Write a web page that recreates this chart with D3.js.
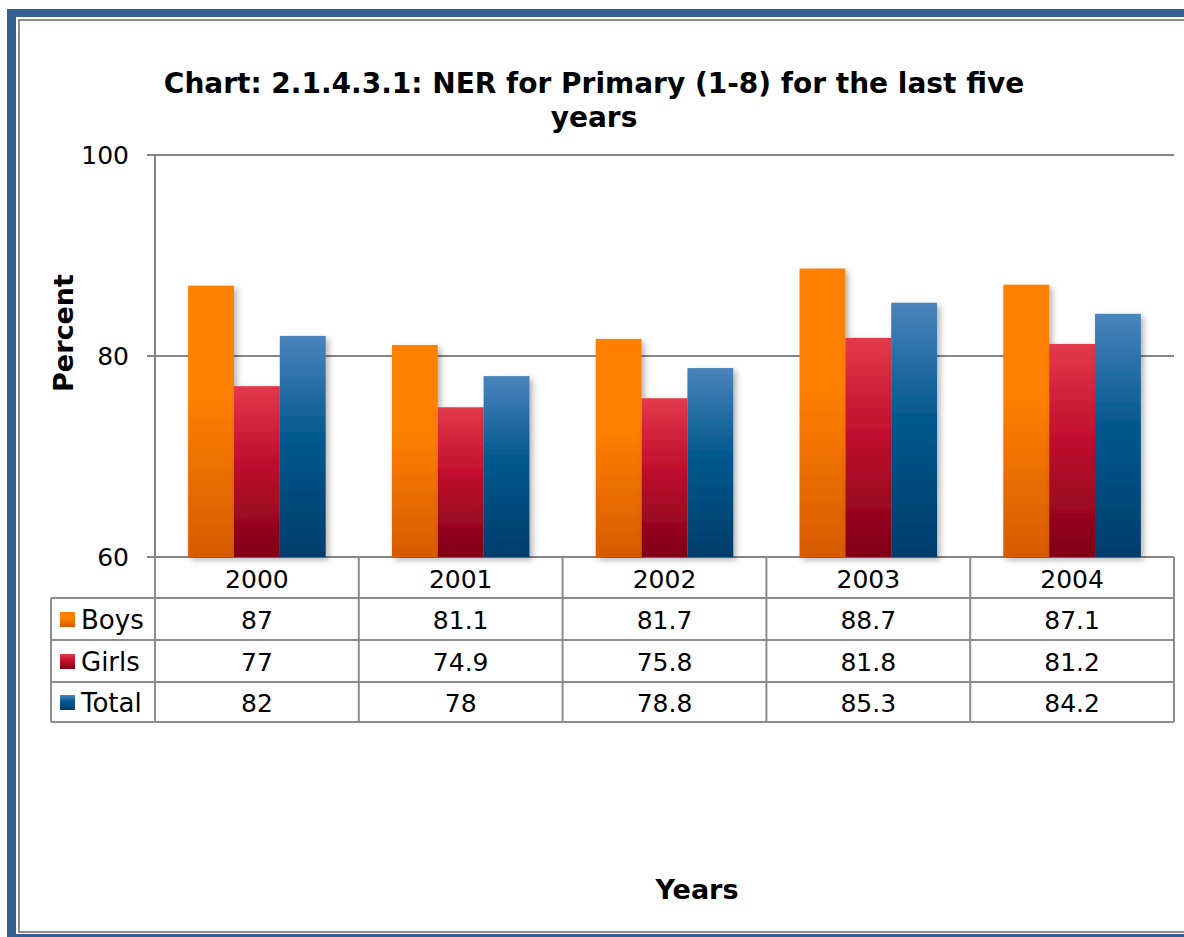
<!DOCTYPE html>
<html>
<head>
<meta charset="utf-8">
<script src="https://cdn.jsdelivr.net/npm/d3@7"></script>
<style>
  html, body { margin: 0; padding: 0; background: #fff; }
  svg { display: block; font-family: "DejaVu Sans", Verdana, sans-serif; }
</style>
</head>
<body>
<svg id="chart" width="1184" height="937"></svg>
<script>
const years = ["2000", "2001", "2002", "2003", "2004"];
const seriesNames = ["Boys", "Girls", "Total"];
const boys = [87, 81.1, 81.7, 88.7, 87.1];
const girls = [77, 74.9, 75.8, 81.8, 81.2];
const total = [82, 78, 78.8, 85.3, 84.2];
const yTicks = [60, 80, 100];
const titleLines = ["Chart: 2.1.4.3.1: NER for Primary (1-8) for the last five", "years"];

const seriesValues = { Boys: boys, Girls: girls, Total: total };
const gradStops = {
  Boys: [["0%", "#FF8000"], ["40%", "#FF8000"], ["100%", "#D85A00"]],
  Girls: [["0%", "#E33A4C"], ["40%", "#C51230"], ["100%", "#800016"]],
  Total: [["0%", "#4A84BC"], ["45%", "#04598F"], ["100%", "#003D6B"]]
};

const svg = d3.select("#chart");
const defs = svg.append("defs");
seriesNames.forEach(s => {
  const g = defs.append("linearGradient").attr("id", "g-" + s)
    .attr("x1", 0).attr("y1", 0).attr("x2", 0).attr("y2", 1);
  gradStops[s].forEach(([o, c]) => g.append("stop").attr("offset", o).attr("stop-color", c));
});
const f = defs.append("filter").attr("id", "shadow").attr("x", "-20%").attr("y", "-20%").attr("width", "150%").attr("height", "150%");
f.append("feDropShadow").attr("dx", 3).attr("dy", 3).attr("stdDeviation", 3)
  .attr("flood-color", "#000").attr("flood-opacity", 0.3);

// Frame
svg.append("rect").attr("x", 7).attr("y", 9).attr("width", 1200).attr("height", 940).attr("fill", "#355F91");
svg.append("rect").attr("x", 16).attr("y", 17).attr("width", 1200).attr("height", 917).attr("fill", "#fff");
svg.append("rect").attr("x", 19).attr("y", 20).attr("width", 1200).attr("height", 912)
  .attr("fill", "#fff").attr("stroke", "#8C8C8C").attr("stroke-width", 2);

const pLeft = 155, pRight = 1174, pTop = 155, pBottom = 557;
const y = d3.scaleLinear().domain([60, 100]).range([pBottom, pTop]);
const x0 = d3.scaleBand().domain(years).range([pLeft, pRight]).paddingInner(0.325).paddingOuter(0.1625);
const x1 = d3.scaleBand().domain(seriesNames).range([0, x0.bandwidth()]);
const step = x0.step();

const gridColor = "#868686";

// Gridlines
svg.append("g").selectAll("line").data(yTicks).join("line")
  .attr("x1", pLeft - 8).attr("x2", pRight)
  .attr("y1", d => y(d)).attr("y2", d => y(d))
  .attr("stroke", gridColor).attr("stroke-width", 2);

// Y axis line
svg.append("line").attr("x1", pLeft).attr("x2", pLeft).attr("y1", pTop).attr("y2", pBottom)
  .attr("stroke", gridColor).attr("stroke-width", 2);

// Tick labels
svg.append("g").selectAll("text").data(yTicks).join("text")
  .attr("x", 129).attr("y", d => y(d)).attr("dy", "0.36em")
  .attr("text-anchor", "end").attr("font-size", 25).attr("fill", "#000")
  .text(d => d);

// Bars
const barG = svg.append("g");
years.forEach((yr, i) => {
  seriesNames.forEach(s => {
    const v = seriesValues[s][i];
    barG.append("rect")
      .attr("x", x0(yr) + x1(s))
      .attr("y", y(v))
      .attr("width", x1.bandwidth())
      .attr("height", y(60) - y(v))
      .attr("fill", "url(#g-" + s + ")")
      .attr("filter", "url(#shadow)");
  });
});

// Data table
const rowTops = [557, 598, 640, 682, 722];
const tableLeft = 51;
const tg = svg.append("g");
const tColor = "#8C8C8C";
[1, 2, 3, 4].forEach(r => {
  tg.append("line").attr("x1", tableLeft).attr("x2", pRight).attr("y1", rowTops[r]).attr("y2", rowTops[r])
    .attr("stroke", tColor).attr("stroke-width", 2);
});
tg.append("line").attr("x1", tableLeft).attr("x2", tableLeft).attr("y1", rowTops[1]).attr("y2", rowTops[4])
  .attr("stroke", tColor).attr("stroke-width", 2);
const vx = years.map(yr => x0(yr) - x0.paddingOuter() * step).concat([pRight]);
tg.selectAll("line.v").data(vx).join("line").attr("class", "v")
  .attr("x1", d => d).attr("x2", d => d).attr("y1", rowTops[0]).attr("y2", rowTops[4])
  .attr("stroke", tColor).attr("stroke-width", 2);

tg.selectAll("text.yr").data(years).join("text").attr("class", "yr")
  .attr("x", d => x0(d) + x0.bandwidth() / 2)
  .attr("y", (rowTops[0] + rowTops[1]) / 2 + 1).attr("dy", "0.36em")
  .attr("text-anchor", "middle").attr("font-size", 25).text(d => d);

seriesNames.forEach((s, r) => {
  const cy = (rowTops[r + 1] + rowTops[r + 2]) / 2 + 1;
  tg.append("rect").attr("x", 60).attr("y", cy - 8).attr("width", 15).attr("height", 15)
    .attr("fill", "url(#g-" + s + ")");
  tg.append("text").attr("x", 81).attr("y", cy).attr("dy", "0.36em")
    .attr("font-size", 26).text(s);
  tg.selectAll("text.v" + s).data(seriesValues[s]).join("text").attr("class", "v" + s)
    .attr("x", (d, i) => x0(years[i]) + x0.bandwidth() / 2)
    .attr("y", cy).attr("dy", "0.36em")
    .attr("text-anchor", "middle").attr("font-size", 25).text(d => d);
});

// Titles
svg.append("g").selectAll("text").data(titleLines).join("text")
  .attr("x", 594).attr("y", (d, i) => 93 + i * 34)
  .attr("text-anchor", "middle").attr("font-size", 28).attr("font-weight", "bold")
  .text(d => d);

svg.append("text").attr("transform", "translate(73,333) rotate(-90)")
  .attr("text-anchor", "middle").attr("font-size", 27).attr("font-weight", "bold").text("Percent");

svg.append("text").attr("x", 697).attr("y", 899)
  .attr("text-anchor", "middle").attr("font-size", 27).attr("font-weight", "bold").text("Years");
</script>
</body>
</html>
